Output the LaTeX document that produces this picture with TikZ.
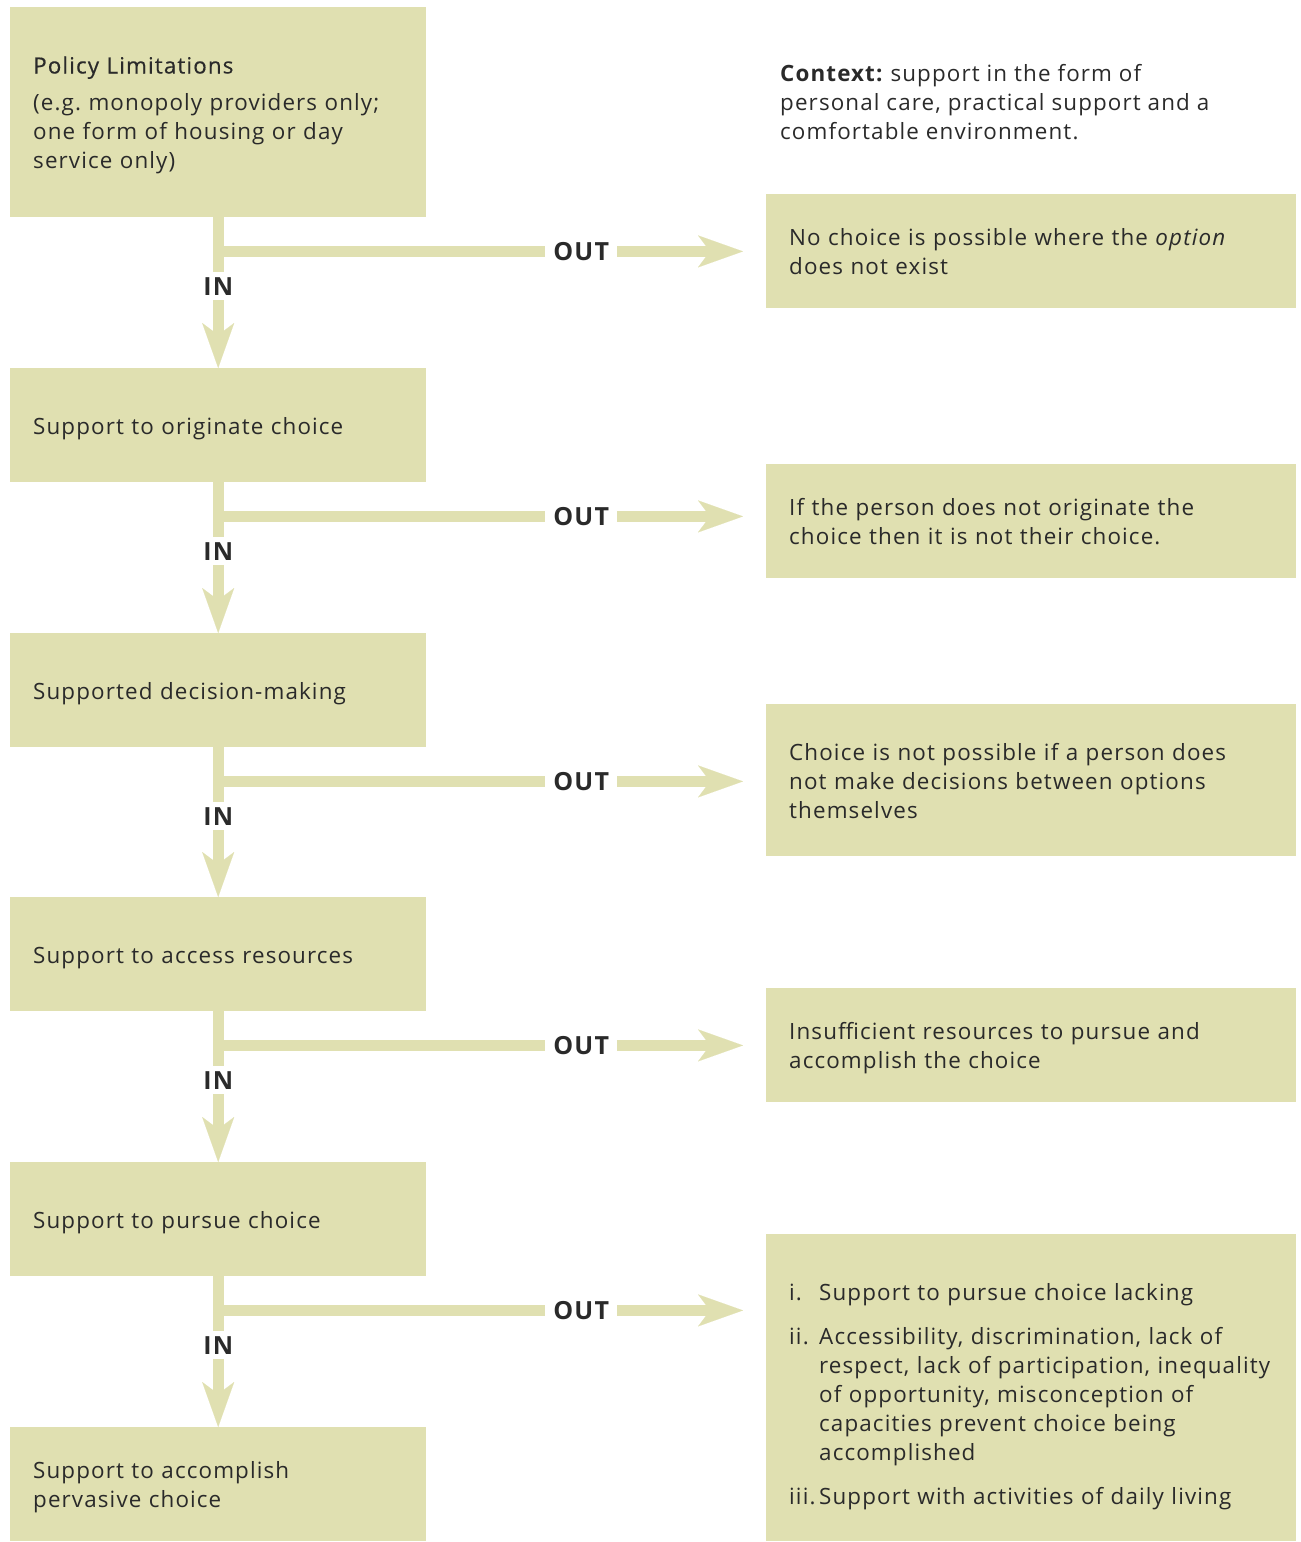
\documentclass[tikz,border=0pt]{standalone}
\usepackage{fontspec}
\setmainfont[LetterSpace=5]{Open Sans}
\usetikzlibrary{arrows.meta,calc}
\definecolor{khaki}{HTML}{E0E0B1}
\definecolor{ink}{HTML}{2A2A2A}
\frenchspacing
\newcommand{\boxtext}[2][6pt]{\vbox{\kern#1\hbox{\begin{tabular}{@{}l@{}}#2\end{tabular}}}}
\begin{document}
\begin{tikzpicture}[x=1pt,y=-1pt,
  box/.style={fill=khaki, text=ink, align=left, anchor=north west, inner xsep=23pt, inner ysep=0pt, font=\fontsize{22.4}{29}\selectfont},
  lbox/.style={box, text width=370pt},
  rbox/.style={box, text width=484pt},
  flow/.style={draw=khaki, line width=11pt},
  arr/.style={flow, -{Stealth[length=45pt,width=32pt,inset=12pt,line width=0.1pt]}},
  lab/.style={fill=white, text=ink, font=\bfseries\fontsize{25}{25}\selectfont, inner xsep=8pt, inner ysep=5pt}]
\useasboundingbox (0,0) rectangle (1301,1542);

% left column
\node[lbox, minimum height=210pt] (b1) at (10,7) {\boxtext{{\addfontfeature{FakeBold=0.4}Policy Limitations}\\[8pt](e.g. monopoly providers only;\\one form of housing or day\\service only)}};
\node[lbox, minimum height=114pt] (b2) at (10,368) {\boxtext{Support to originate choice}};
\node[lbox, minimum height=114pt] (b3) at (10,633) {\boxtext{Supported decision-making}};
\node[lbox, minimum height=114pt] (b4) at (10,897) {\boxtext{Support to access resources}};
\node[lbox, minimum height=114pt] (b5) at (10,1162) {\boxtext{Support to pursue choice}};
\node[lbox, minimum height=114pt] (b6) at (10,1427) {\boxtext{Support to accomplish\\pervasive choice}};

% right column
\node[text=ink, align=left, anchor=west, inner sep=0pt, font=\fontsize{22.4}{29}\selectfont] (ctx) at (780,102) {\textbf{Context:} support in the form of\\personal care, practical support and a\\comfortable environment.};
\node[rbox, minimum height=114pt] (r1) at (766,194) {\boxtext{No choice is possible where the \textit{option}\\does not exist}};
\node[rbox, minimum height=114pt] (r2) at (766,464) {\boxtext{If the person does not originate the\\choice then it is not their choice.}};
\node[rbox, minimum height=152pt] (r3) at (766,704) {\boxtext{Choice is not possible if a person does\\not make decisions between options\\themselves}};
\node[rbox, minimum height=114pt] (r4) at (766,988) {\boxtext{Insufficient resources to pursue and\\accomplish the choice}};
\node[rbox, minimum height=307pt] (r5) at (766,1234) {\vbox{\kern17pt\hbox{\begin{tabular}{@{}p{30pt}@{}l@{}}
i. & Support to pursue choice lacking\\[15pt]
ii. & Accessibility, discrimination, lack of\\
 & respect, lack of participation, inequality\\
 & of opportunity, misconception of\\
 & capacities prevent choice being\\
 & accomplished\\[15pt]
iii. & Support with activities of daily living
\end{tabular}}}};

% stems (IN)
\draw[arr] (b1.south) -- (b2.north);
\draw[arr] (b2.south) -- (b3.north);
\draw[arr] (b3.south) -- (b4.north);
\draw[arr] (b4.south) -- (b5.north);
\draw[arr] (b5.south) -- (b6.north);

% branches (OUT)
\foreach \k in {1,...,5} {
  \coordinate (j\k) at ($(b\k.south)+(0,34)$);
  \draw[arr, shorten >=23pt] (j\k) -- (j\k -| r\k.west);
  \node[lab] (out\k) at ($(j\k)+(363,0)$) {OUT};
  \node[lab] (in\k) at ($(b\k.south)+(0,69)$) {IN};
}
\end{tikzpicture}
\end{document}
